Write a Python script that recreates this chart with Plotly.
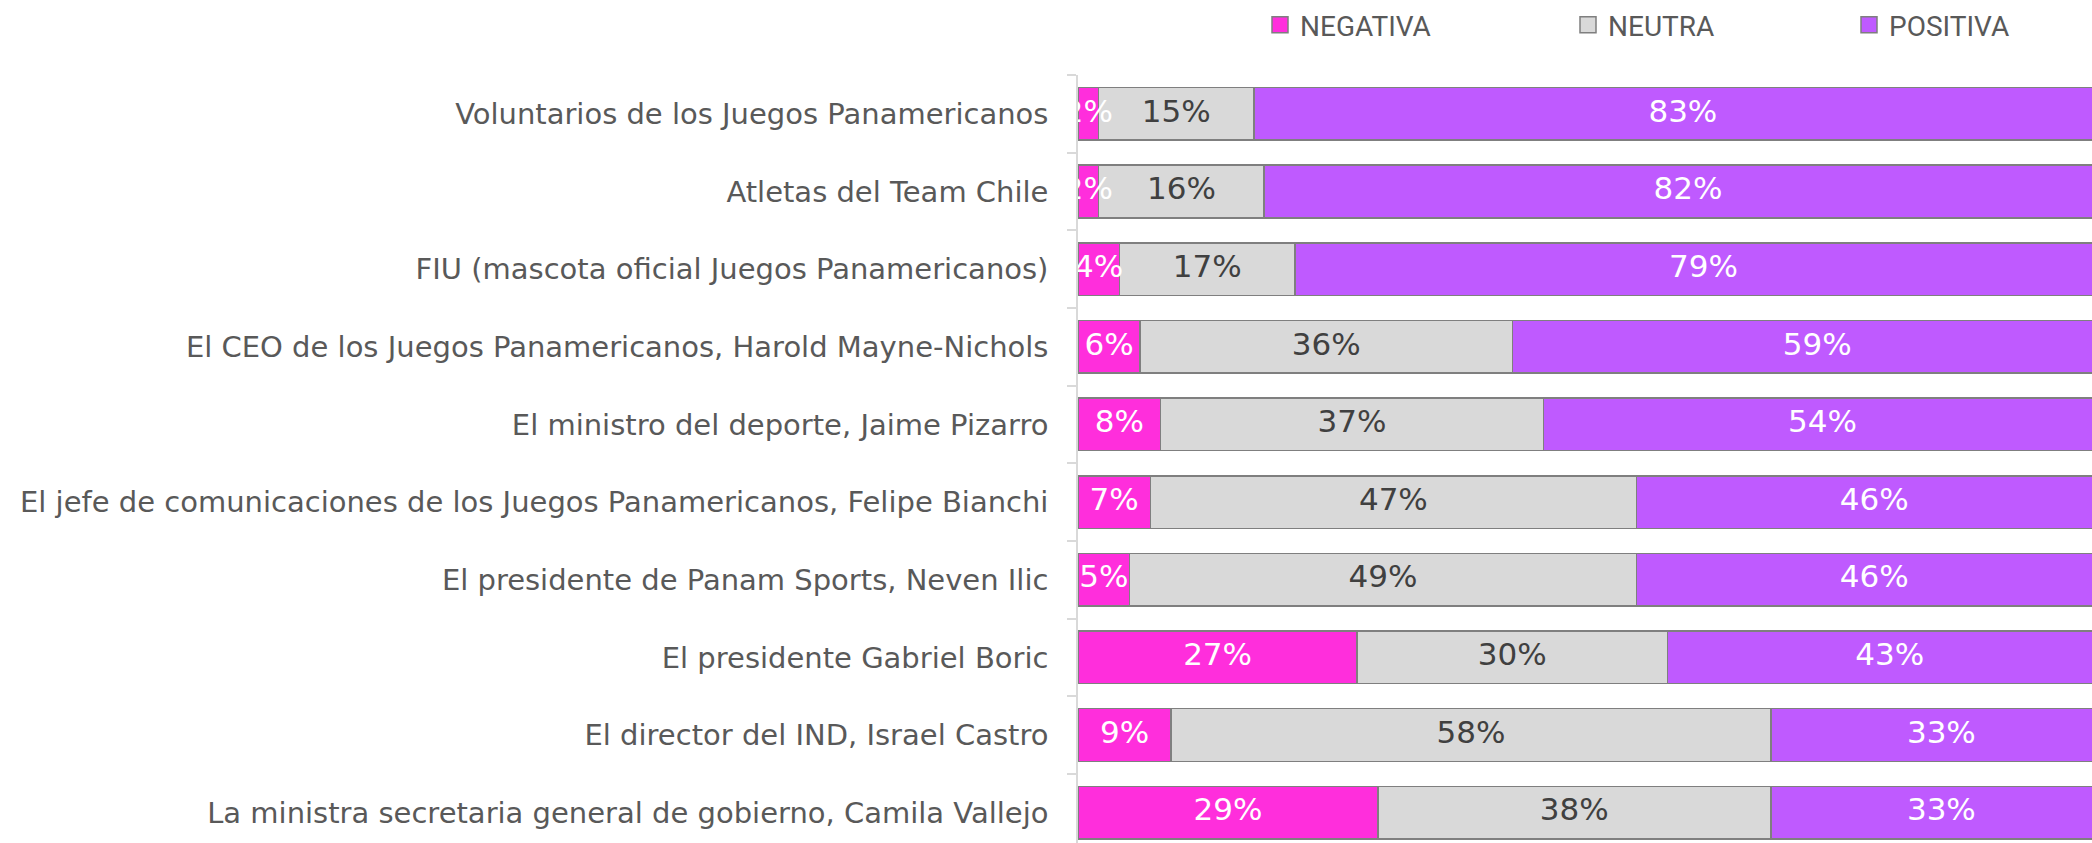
import plotly.graph_objects as go

categories = [
    "Voluntarios de los Juegos Panamericanos",
    "Atletas del Team Chile",
    "FIU (mascota oficial Juegos Panamericanos)",
    "El CEO de los Juegos Panamericanos, Harold Mayne-Nichols",
    "El ministro del deporte, Jaime Pizarro",
    "El jefe de comunicaciones de los Juegos Panamericanos, Felipe Bianchi",
    "El presidente de Panam Sports, Neven Ilic",
    "El presidente Gabriel Boric",
    "El director del IND, Israel Castro",
    "La ministra secretaria general de gobierno, Camila Vallejo",
]
negativa = [2, 2, 4, 6, 8, 7, 5, 27, 9, 29]
neutra = [15, 16, 17, 36, 37, 47, 49, 30, 58, 38]
positiva = [83, 82, 79, 59, 54, 46, 46, 43, 33, 33]

series_names = ["NEGATIVA", "NEUTRA", "POSITIVA"]
series_values = [negativa, neutra, positiva]
colors = ["#FF2EDC", "#D9D9D9", "#BF5AFF"]
text_colors = ["#FFFFFF", "#404040", "#FFFFFF"]
border = "#7F7F7F"

W, H = 2092, 843
ML, MT = 1078, 73
plot_w = W - ML
plot_h = H - MT
px_per_pct = 10.34
x_max = plot_w / px_per_pct
pitch = 77.85
y_bottom = (H - (MT + pitch / 2)) / pitch  # index at bottom edge

fig = go.Figure()

# bars
for name, vals, col in zip(series_names, series_values, colors):
    fig.add_trace(go.Bar(
        y=categories, x=vals, orientation="h", name=name,
        marker=dict(color=col, line=dict(color=border, width=1.5)),
        showlegend=False, hoverinfo="skip",
    ))

# labels on top of all bars
starts = [0] * len(categories)
for name, vals, tc in zip(series_names, series_values, text_colors):
    mids = [s + v / 2 for s, v in zip(starts, vals)]
    fig.add_trace(go.Scatter(
        y=categories, x=mids, mode="text",
        text=[f"{v}%" for v in vals],
        textposition="middle center",
        textfont=dict(family="DejaVu Sans, Noto Sans", size=31, color=tc),
        showlegend=False, hoverinfo="skip",
    ))
    starts = [s + v for s, v in zip(starts, vals)]

# legend entries
legend_keys = ["legend", "legend2", "legend3"]
legend_px = [1279, 1587, 1868]
for name, col, lk in zip(series_names, colors, legend_keys):
    fig.add_trace(go.Scatter(
        x=[None], y=[None], mode="markers", name=name,
        marker=dict(symbol="square", size=19, color=col, line=dict(color=border, width=1.5)),
        legend=lk, showlegend=True,
    ))

legend_common = dict(
    orientation="h", xanchor="left", yanchor="middle", itemsizing="trace",
    font=dict(family="Roboto, Liberation Sans", size=28, color="#595959"),
    bgcolor="rgba(0,0,0,0)", borderwidth=0,
)
leg_y = (H - 22.5) / plot_h
layout_legends = {}
for lk, cx in zip(legend_keys, legend_px):
    layout_legends[lk] = dict(legend_common, x=(cx - 19 - ML) / plot_w, y=leg_y)

fig.update_layout(
    width=W, height=H,
    margin=dict(l=ML, r=0, t=MT, b=0, pad=0),
    paper_bgcolor="white", plot_bgcolor="white",
    barmode="stack", bargap=0.323,
    xaxis=dict(range=[0, x_max], visible=False, fixedrange=True),
    yaxis=dict(
        type="category", categoryorder="array", categoryarray=categories,
        range=[y_bottom, -0.5], fixedrange=True,
        showline=True, linecolor="#D9D9D9", linewidth=1.5,
        ticks="outside", tickson="boundaries", ticklen=9, tickcolor="#D9D9D9", tickwidth=1.5,
        showgrid=False, zeroline=False,
        tickfont=dict(family="DejaVu Sans, Noto Sans", size=29, color="#595959"),
        ticklabelstandoff=22,
    ),
    **layout_legends,
)

fig.write_html(
    "out.html",
    config={"displayModeBar": False},
    post_script="document.body.style.margin='0';document.body.style.overflow='hidden';",
)
